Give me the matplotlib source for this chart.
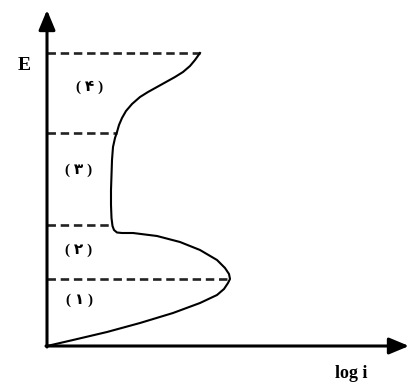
import matplotlib
matplotlib.use("Agg")
import matplotlib.pyplot as plt
import numpy as np

# polarisation curve, log i against E (arbitrary units, origin at the axes corner)
logi = [0, 26, 60, 93, 126, 153, 170, 177, 181, 183,
        182, 178, 170, 153, 133, 110, 86, 75, 70, 67,
        65.5, 64.5, 64, 64, 64.5, 65, 66, 68, 70, 72,
        75, 79, 85, 93, 101, 110, 119, 128, 136, 143,
        148, 153]
E = [0, 6, 14, 23, 33, 43, 51, 57, 63, 67,
     72, 78, 86, 96, 104, 110, 113, 113, 113.5, 116,
     120, 128, 141, 156, 171, 186, 199, 208, 214, 221,
     228, 235, 242, 249, 254, 259, 264, 269, 274, 280,
     286, 293]

# region boundaries (dashed) and where they meet the curve
levels = [67, 121, 213, 293]
level_ends = [183, 65.5, 70, 153]

region_labels = ["( ۱ )", "( ۲ )", "( ۳ )", "( ۴ )"]
region_mid = [46, 96, 176, 259]
region_x = [32, 32, 32, 43]

fig = plt.figure(figsize=(4.09, 3.84), dpi=100)
ax = fig.add_axes([47 / 409, 38 / 384, 362 / 409, 336 / 384])
ax.set_xlim(0, 362)
ax.set_ylim(0, 336)
ax.axis("off")

for lv, xe in zip(levels, level_ends):
    ax.plot([0, xe], [lv, lv], color="#222222", lw=1.9, ls=(0, (3.2, 1.8)), clip_on=False)

ax.plot(logi, E, color="black", lw=1.5, solid_joinstyle="round", clip_on=False)

arrow = dict(arrowstyle="-|>,head_length=0.6,head_width=0.25", lw=2.2, color="black",
             mutation_scale=20, shrinkA=0, shrinkB=0)
ax.annotate("", xy=(0, 336), xytext=(0, -1), arrowprops=arrow, annotation_clip=False)
ax.annotate("", xy=(362, 0), xytext=(-1, 0), arrowprops=arrow, annotation_clip=False)

for lab, x, y in zip(region_labels, region_x, region_mid):
    ax.text(x, y, lab, ha="center", va="center", fontsize=11, fontweight="bold",
            family=["Liberation Serif", "DejaVu Sans"])

ax.text(-23, 281, "E", ha="center", va="center", fontsize=14, fontweight="bold",
        family="Liberation Serif")
ax.text(304, -27, "log i", ha="center", va="center", fontsize=13, fontweight="bold",
        family="Liberation Serif")

fig.savefig("out.png", dpi=100)
